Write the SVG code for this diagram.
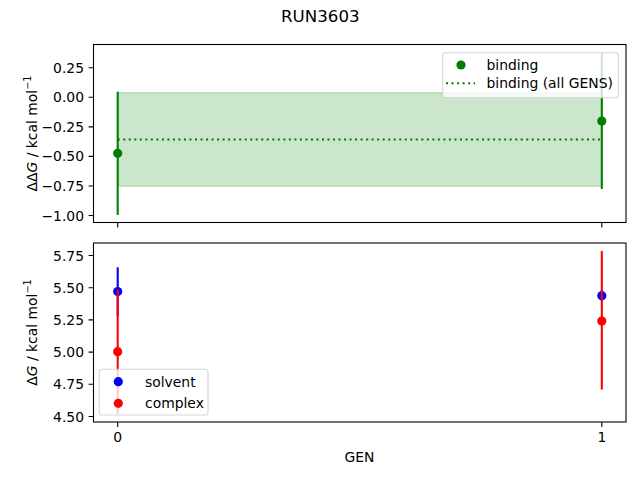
<svg xmlns="http://www.w3.org/2000/svg" width="640" height="480" viewBox="0 0 640 480">
<style>
text{font-family:"DejaVu Sans","Liberation Sans",sans-serif;fill:#000}
.tick{font-size:13.9px}
.tl{stroke:#000;stroke-width:1.1;fill:none}
.spine{fill:none;stroke:#000;stroke-width:1.1}
.leg{fill:#fff;fill-opacity:0.8;stroke:#ccc;stroke-opacity:0.8;stroke-width:1.1}
.eb{stroke-width:2.08;fill:none}
</style>
<rect width="640" height="480" fill="#fff"/>
<text x="320.3" y="22" font-size="16.67" text-anchor="middle">RUN3603</text>

<g id="top-axes">
  <rect x="117.7" y="92.7" width="484.1" height="93.5" fill="#008000" fill-opacity="0.2" stroke="#008000" stroke-opacity="0.2" stroke-width="1.4"/>
  <line x1="117.7" y1="139.5" x2="601.8" y2="139.5" stroke="#008000" stroke-width="2.08" stroke-dasharray="2.08 3.44"/>
  <g id="binding-gen0">
    <line class="eb" x1="117.7" y1="91.7" x2="117.7" y2="215" stroke="#008000"/>
    <circle cx="117.7" cy="153.3" r="4.6" fill="#008000"/>
  </g>
  <g id="binding-gen1">
    <line class="eb" x1="601.8" y1="53" x2="601.8" y2="189" stroke="#008000"/>
    <circle cx="601.8" cy="121" r="4.6" fill="#008000"/>
  </g>
  <rect class="spine" x="93.5" y="44.5" width="532.5" height="178"/>
  <g class="tl">
    <path d="M88.6 67.8H93.5M88.6 97.3H93.5M88.6 126.9H93.5M88.6 156.4H93.5M88.6 186H93.5M88.6 215.5H93.5"/>
    <path d="M117.7 222.5V227.4M601.8 222.5V227.4"/>
  </g>
  <g class="tick" text-anchor="end">
    <text x="84" y="72.8">0.25</text>
    <text x="84" y="102.3">0.00</text>
    <text x="84" y="131.9">−0.25</text>
    <text x="84" y="161.4">−0.50</text>
    <text x="84" y="191">−0.75</text>
    <text x="84" y="220.5">−1.00</text>
  </g>
  <text transform="translate(36.5 133.5) rotate(-90)" font-size="13.9" text-anchor="middle">ΔΔ<tspan font-style="italic">G</tspan> / kcal mol<tspan font-size="9.7" dy="-5.5">−1</tspan></text>
  <g id="legend-top">
    <rect class="leg" x="442.7" y="52.7" width="175.6" height="45" rx="2.8"/>
    <circle cx="461" cy="65" r="4.6" fill="#008000"/>
    <line x1="446" y1="83.3" x2="475" y2="83.3" stroke="#008000" stroke-width="2.08" stroke-dasharray="2.08 3.44"/>
    <text x="486.5" y="70" font-size="13.9">binding</text>
    <text x="486.5" y="88.3" font-size="13.9">binding (all GENS)</text>
  </g>
</g>

<g id="bottom-axes">
  <g id="solvent-gen0">
    <line class="eb" x1="117.7" y1="267.3" x2="117.7" y2="315.7" stroke="#0000ff"/>
    <circle cx="117.7" cy="291.5" r="4.6" fill="#0000ff"/>
  </g>
  <g id="solvent-gen1">
    <line class="eb" x1="601.8" y1="290" x2="601.8" y2="301" stroke="#0000ff"/>
    <circle cx="601.8" cy="295.7" r="4.6" fill="#0000ff"/>
  </g>
  <g id="complex-gen0">
    <line class="eb" x1="117.7" y1="289.5" x2="117.7" y2="414" stroke="#ff0000"/>
    <circle cx="117.7" cy="351.7" r="4.6" fill="#ff0000"/>
  </g>
  <g id="complex-gen1">
    <line class="eb" x1="601.8" y1="251" x2="601.8" y2="389.5" stroke="#ff0000"/>
    <circle cx="601.8" cy="321" r="4.6" fill="#ff0000"/>
  </g>
  <rect class="spine" x="93.5" y="243" width="532.5" height="179"/>
  <g class="tl">
    <path d="M88.6 255.5H93.5M88.6 287.7H93.5M88.6 319.9H93.5M88.6 352.1H93.5M88.6 384.3H93.5M88.6 416.5H93.5"/>
    <path d="M117.7 422V426.9M601.8 422V426.9"/>
  </g>
  <g class="tick" text-anchor="end">
    <text x="84" y="260.5">5.75</text>
    <text x="84" y="292.7">5.50</text>
    <text x="84" y="324.9">5.25</text>
    <text x="84" y="357.1">5.00</text>
    <text x="84" y="389.3">4.75</text>
    <text x="84" y="421.5">4.50</text>
  </g>
  <g class="tick" text-anchor="middle">
    <text x="117.7" y="442">0</text>
    <text x="601.8" y="442">1</text>
  </g>
  <text x="359.5" y="461.7" font-size="13.9" text-anchor="middle">GEN</text>
  <text transform="translate(36.5 332.5) rotate(-90)" font-size="13.9" text-anchor="middle">Δ<tspan font-style="italic">G</tspan> / kcal mol<tspan font-size="9.7" dy="-5.5">−1</tspan></text>
  <g id="legend-bottom">
    <rect class="leg" x="99.2" y="369.3" width="108.8" height="45.7" rx="2.8"/>
    <circle cx="118.3" cy="381.7" r="4.6" fill="#0000ff"/>
    <circle cx="118.3" cy="403.3" r="4.6" fill="#ff0000"/>
    <text x="145" y="386.7" font-size="13.9">solvent</text>
    <text x="145" y="408.3" font-size="13.9">complex</text>
  </g>
</g>
</svg>
